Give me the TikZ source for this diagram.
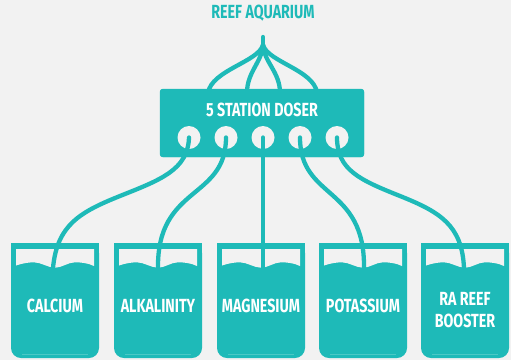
\documentclass[tikz,border=0pt]{standalone}
\usepackage{fontspec}
\usepackage{xcolor}
\usepackage{tikz}
\setmainfont{Fira Sans}[FakeStretch=0.75]
\definecolor{rateal}{HTML}{1EBAB8}
\definecolor{rabg}{HTML}{F2F2F2}

\begin{document}
\begin{tikzpicture}[x=1pt, y=-1pt,
  tag/.style={inner sep=0pt, text=white, align=center, font=\bfseries\fontsize{19}{21.5}\selectfont},
  box/.style={fill=rateal, minimum width=204pt, minimum height=68pt, inner sep=0pt, rounded corners=3pt},
  port/.style={circle, fill=rabg, minimum size=23pt, inner sep=0pt},
  tube/.style={draw=rateal, line width=4.3pt, line cap=round},
  beaker/.pic={
    \fill[rateal, rounded corners=10pt] (-44,0) rectangle (44,115);
    \fill[rateal] (-44,0) rectangle (44,20);
    \fill[rabg] (-39,6) -- (39,6) -- (39,23) .. controls +(-6,-3) and +(6,0) .. (20,19.3)
      .. controls +(-7,0) and +(7,0) .. (0,24.7) .. controls +(-7,0) and +(7,0) .. (-21,19.3)
      .. controls +(-6,0) and +(6,-2) .. (-39,22.5) -- cycle;
    \draw[rateal!80!white, line width=0.6pt] (-33,111) -- (33,111);
  }]
  \fill[rabg] (0,0) rectangle (511,360);
  \useasboundingbox (0,0) rectangle (511,360);

  \node[tag, text=rateal] (aquarium) at (263,13.5) {REEF AQUARIUM};
  \coordinate (merge) at (263,45);

  % doser and its feed lines
  \node[box] (doser) at (262,123) {};
  \draw[tube] ([shift={(-54,4)}]doser.north) .. controls (212,70) and (258,62) .. (merge);
  \draw[tube] ([shift={(-15,4)}]doser.north) .. controls (247,72) and (262,62) .. (merge);
  \draw[tube] ([shift={(18,4)}]doser.north) .. controls (280,72) and (264,62) .. (merge);
  \draw[tube] ([shift={(55,4)}]doser.north) .. controls (314,70) and (268,62) .. (merge);
  \draw[tube] (merge) -- ++(0,-8);
  \fill[rateal, rounded corners=3pt] (doser.north west) rectangle (doser.south east);
  \node[tag] (doser label) at (262,109.5) {5 STATION DOSER};
  \node[port] (port1) at (189,137.5) {};
  \node[port] (port2) at (226,137.5) {};
  \node[port] (port3) at (263,137.5) {};
  \node[port] (port4) at (300,137.5) {};
  \node[port] (port5) at (337,137.5) {};

  % containers
  \pic at (55,243) {beaker};
  \pic at (158,243) {beaker};
  \pic at (261,243) {beaker};
  \pic at (363,243) {beaker};
  \pic at (465,243) {beaker};
  \node[tag] (calcium) at (55,305.7) {CALCIUM};
  \node[tag] (alkalinity) at (158,305.7) {ALKALINITY};
  \node[tag] (magnesium) at (261,305.7) {MAGNESIUM};
  \node[tag] (potassium) at (363,305.7) {POTASSIUM};
  \node[tag] (booster) at (465,310.3) {RA REEF\\BOOSTER};
  \coordinate (calcium in) at (53,268);
  \coordinate (alkalinity in) at (158,268);
  \coordinate (magnesium in) at (263,268);
  \coordinate (potassium in) at (364,268);
  \coordinate (booster in) at (464,268);

  % dosing lines
  \draw[tube] (port1.center) .. controls (188,170) and (160,180) .. (120,196)
    .. controls (80,212) and (57,225) .. (calcium in);
  \draw[tube] (port2.center) .. controls (226,200) and (157,185) .. (alkalinity in);
  \draw[tube] (port3.center) -- (magnesium in);
  \draw[tube] (port4.center) .. controls (300,200) and (365,185) .. (potassium in);
  \draw[tube] (port5.center) .. controls (337,170) and (360,180) .. (400,196)
    .. controls (440,212) and (462,225) .. (booster in);
\end{tikzpicture}
\end{document}
